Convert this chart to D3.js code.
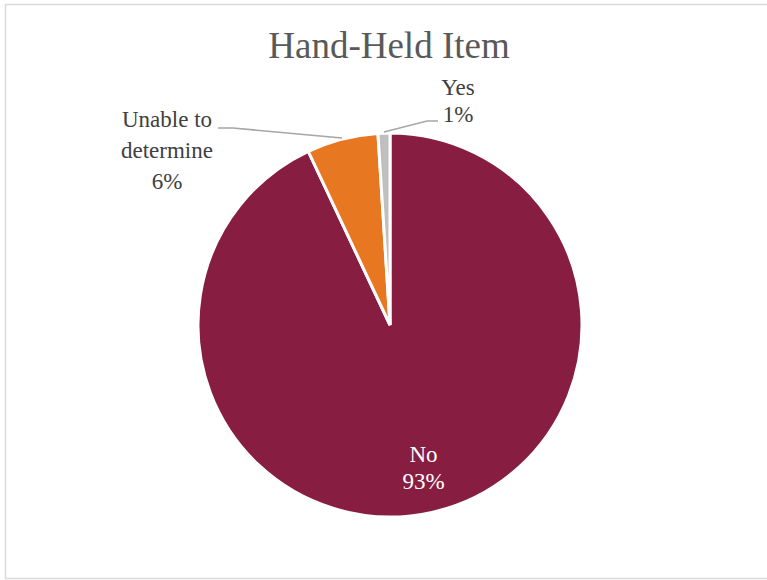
<!DOCTYPE html>
<html>
<head>
<meta charset="utf-8">
<script src="https://cdn.jsdelivr.net/npm/d3@7"></script>
<style>
  html, body { margin: 0; padding: 0; background: #fff; }
  svg { display: block; }
</style>
</head>
<body>
<svg id="chart" width="767" height="580" font-family="Liberation Serif"></svg>
<script>
// Survey responses for "Hand-Held Item"
const categories = ["No", "Unable to determine", "Yes"];
const values = [93, 6, 1];
const labelLines = [["No", "93%"], ["Unable to", "determine", "6%"], ["Yes", "1%"]];
const colors = ["#871e41", "#e87722", "#bfbfbf"];

const width = 767, height = 580;
const cx = 390, cy = 325, R = 192;
const FONT = "Liberation Serif";

const svg = d3.select("#chart");

// chart frame
svg.append("rect")
  .attr("x", 5.5).attr("y", 4.5)
  .attr("width", 780).attr("height", 574)
  .attr("fill", "#fff")
  .attr("stroke", "#d9d9d9").attr("stroke-width", 1.5);

// title
svg.append("text")
  .attr("x", 389).attr("y", 58)
  .attr("text-anchor", "middle")
  .attr("font-family", FONT)
  .style("font-family", FONT)
  .style("font-size", "37px")
  .attr("fill", "#595959")
  .text("Hand-Held Item");

const data = categories.map((c, i) => ({ name: c, value: values[i], lines: labelLines[i], color: colors[i] }));

const pie = d3.pie().sort(null).value(d => d.value).startAngle(0).endAngle(2 * Math.PI);
const arcs = pie(data);

const arc = d3.arc().innerRadius(0).outerRadius(R);
const g = svg.append("g").attr("transform", `translate(${cx},${cy})`);

g.selectAll("path.slice")
  .data(arcs)
  .join("path")
  .attr("class", "slice")
  .attr("d", arc)
  .attr("fill", d => d.data.color)
  .attr("stroke", "#fff")
  .attr("stroke-width", 3)
  .attr("stroke-linejoin", "miter");

const fs = "23px";

function polar(angle, r) {
  return [r * Math.sin(angle), -r * Math.cos(angle)];
}

// inside label for the large slice
const big = arcs[0];
const bigMid = (big.startAngle + big.endAngle) / 2;
const [bx, by] = polar(bigMid, R * 0.8);
const bigText = g.append("text")
  .attr("text-anchor", "middle")
  .attr("font-family", FONT)
  .style("font-family", FONT)
  .style("font-size", fs)
  .attr("fill", "#ffffff");
big.data.lines.forEach((t, i) => {
  bigText.append("tspan")
    .attr("x", bx)
    .attr("y", by - 13 + i * 27)
    .text(t);
});

// outside labels with leader lines
const outside = [
  { a: arcs[1], tx: -223, ty: -198, lh: 31, lineEnd: [-172, -197], knee: [-157, -197] },
  { a: arcs[2], tx: 68, ty: -230, lh: 27, lineEnd: [48, -204], knee: [37, -204] }
];

outside.forEach(o => {
  const mid = (o.a.startAngle + o.a.endAngle) / 2;
  const p0 = polar(mid, R + 1);
  g.append("polyline")
    .attr("points", [p0, o.knee, o.lineEnd].map(p => p.join(",")).join(" "))
    .attr("fill", "none")
    .attr("stroke", "#a6a6a6")
    .attr("stroke-width", 1.5);
  const t = g.append("text")
    .attr("text-anchor", "middle")
    .attr("font-family", FONT)
    .style("font-family", FONT)
    .style("font-size", fs)
    .attr("fill", "#404040");
  o.a.data.lines.forEach((s, i) => {
    t.append("tspan").attr("x", o.tx).attr("y", o.ty + i * o.lh).text(s);
  });
});
</script>
</body>
</html>
